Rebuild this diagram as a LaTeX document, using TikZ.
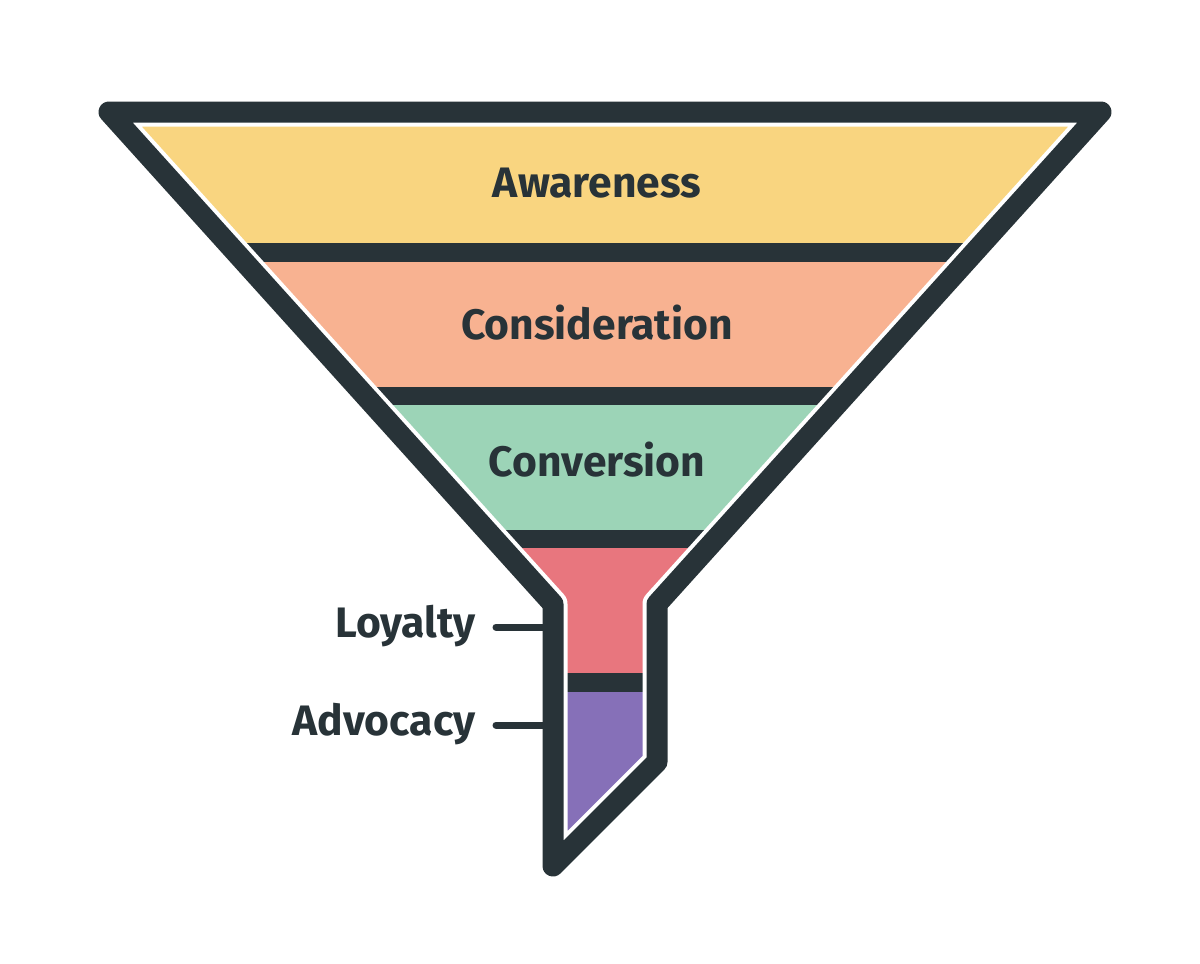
\documentclass[tikz,border=0pt]{standalone}
\usepackage{fontspec}
\setmainfont{Fira Sans}
\definecolor{fyel}{HTML}{F9D580}
\definecolor{fsal}{HTML}{F8B291}
\definecolor{fgrn}{HTML}{9CD4B7}
\definecolor{fred}{HTML}{E8767E}
\definecolor{fpur}{HTML}{8670B8}
\definecolor{fdark}{HTML}{283338}
\tikzset{
  outline/.style={fdark, line width=10.5pt, line join=round},
  gap/.style={white, line width=14.5pt, line join=round},
  lbl/.style={font=\fontsize{21.3}{24}\selectfont\bfseries, text=fdark, inner sep=0pt},
  conn/.style={fdark, line width=3.5pt, line cap=round},
}
\begin{document}
\begin{tikzpicture}[x=0.5pt,y=-0.5pt]
\useasboundingbox[fill=white] (0,0) rectangle (1200,964);
\coordinate (TL) at (109,112);
\coordinate (TR) at (1101,112);
\coordinate (SR) at (657,604);
\coordinate (BR) at (657,762);
\coordinate (BL) at (553,866);
\coordinate (SL) at (553,604);
\begin{scope}
\clip (TL) -- (TR) -- (SR) -- (BR) -- (BL) -- (SL) -- cycle;
\fill[fyel] (0,100) rectangle (1200,243);
\fill[fdark] (0,243) rectangle (1200,262);
\fill[fsal] (0,262) rectangle (1200,387);
\fill[fdark] (0,387) rectangle (1200,405);
\fill[fgrn] (0,405) rectangle (1200,530);
\fill[fdark] (0,530) rectangle (1200,548);
\fill[fred] (0,548) rectangle (1200,673);
\fill[fdark] (0,673) rectangle (1200,692);
\fill[fpur] (0,692) rectangle (1200,900);
\end{scope}
\draw[gap] (TL) -- (TR) -- (SR) -- (BR) -- (BL) -- (SL) -- cycle;
\draw[outline] (TL) -- (TR) -- (SR) -- (BR) -- (BL) -- (SL) -- cycle;
\node[lbl, anchor=base] (aw) at (597,197) {Awareness};
\node[lbl, anchor=base] (co) at (597,339) {Consideration};
\node[lbl, anchor=base] (cv) at (597,476) {Conversion};
\node[lbl, anchor=base east] (loy) at (476,637) {Loyalty};
\node[lbl, anchor=base east] (adv) at (476,735) {Advocacy};
\coordinate (loyS) at (545,627);
\coordinate (advS) at (545,725);
\draw[conn] (loyS -| loy.east) ++(20,0) -- (loyS);
\draw[conn] (advS -| adv.east) ++(20,0) -- (advS);
\end{tikzpicture}
\end{document}
